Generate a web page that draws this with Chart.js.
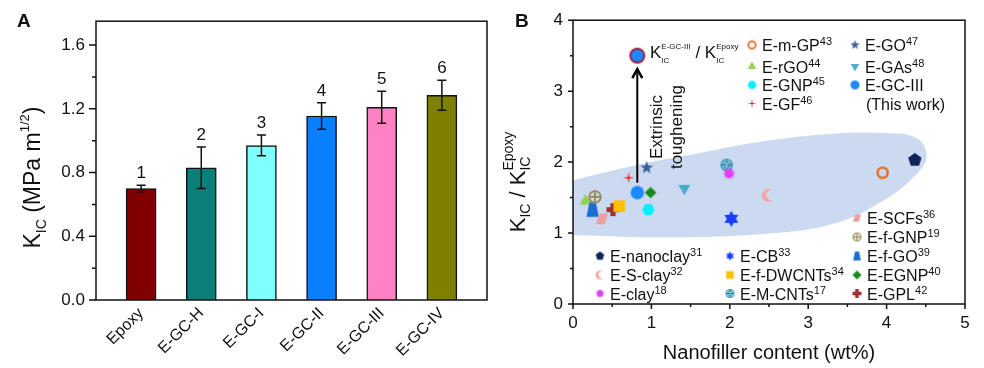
<!DOCTYPE html>
<html>
<head>
<meta charset="utf-8">
<script src="https://cdn.jsdelivr.net/npm/chart.js@4.4.1/dist/chart.umd.min.js"></script>
<style>
  html, body { margin: 0; padding: 0; background: #fff; }
  #wrapA { position: absolute; left: 0; top: 0; width: 500px; height: 368px; }
  #wrapB { position: absolute; left: 500px; top: 0; width: 484px; height: 368px; }
</style>
</head>
<body>
<div id="wrapA"><canvas id="chartA" width="500" height="368"></canvas></div>
<div id="wrapB"><canvas id="chartB" width="484" height="368"></canvas></div>
<script>
const FONT = "'Liberation Sans', Arial, sans-serif";
const INK = '#111';

// ---- panel A data
const samples = ['Epoxy', 'E-GC-H', 'E-GC-I', 'E-GC-II', 'E-GC-III', 'E-GC-IV'];
const kic = [0.70, 0.83, 0.97, 1.155, 1.21, 1.285];
const kicErr = [0.02, 0.13, 0.065, 0.083, 0.10, 0.094];
const sampleNo = ['1', '2', '3', '4', '5', '6'];
const ticksA = [0, 0.4, 0.8, 1.2, 1.6];
const minorA = [0.2, 0.6, 1.0, 1.4];
const barColors = ['#800000', '#0b7f7a', '#80ffff', '#0a80ff', '#ff82c4', '#808000'];

// ---- panel B data
const fillers = ['E-nanoclay', 'E-S-clay', 'E-clay', 'E-CB', 'E-f-DWCNTs', 'E-M-CNTs', 'E-SCFs', 'E-f-GNP',
  'E-f-GO', 'E-EGNP', 'E-GPL', 'E-m-GP', 'E-rGO', 'E-GNP', 'E-GF', 'E-GO', 'E-GAs', 'E-GC-III'];
const refs = ['31', '32', '18', '33', '34', '17', '36', '19', '39', '40', '42', '43', '44', '45', '46', '47', '48', ''];
const content = [4.36, 2.49, 1.99, 2.02, 0.59, 1.96, 0.37, 0.28, 0.25, 0.99, 0.51, 3.95, 0.16, 0.96, 0.71, 0.94, 1.42, 0.82];
const ratio = [2.03, 1.53, 1.84, 1.20, 1.38, 1.96, 1.20, 1.51, 1.33, 1.57, 1.33, 1.85, 1.45, 1.33, 1.78, 1.92, 1.63, 1.57];
const thisWorkX = [0.82];
const thisWorkY = [3.5];
const arrowX = [0.82, 0.82];
const arrowY = [1.71, 3.31];
const blobX = [-0.02, 0.77, 1.62, 2.47, 3.32, 3.96, 4.38, 4.51, 4.38, 3.96, 3.32, 2.47, 1.20, -0.02];
const blobY = [1.74, 1.95, 2.13, 2.30, 2.40, 2.41, 2.34, 2.09, 1.83, 1.46, 1.13, 0.99, 0.94, 0.97];
const ticksBX = [0, 1, 2, 3, 4, 5];
const ticksBY = [0, 1, 2, 3, 4];

// marker look for each filler (same order as fillers)
const markerShape = ['pentagon', 'crescent', 'burst', 'star6', 'square', 'circDiamond', 'para', 'circPlus',
  'trap', 'diamond', 'plus', 'ring', 'triUp', 'hexagon', 'star4', 'star5', 'triDown', 'circle'];
const markerColor = ['#10245c', '#f6a6a6', '#e040fb', '#1c3cff', '#ffc000', '#2f8fae', '#eaa0a0', '#9a8a56',
  '#1a6fd0', '#15891a', '#9c3232', '#e8661c', '#92d050', '#00f0ff', '#e8101a', '#3a5f9f', '#4aaccc', '#1e88ff'];
const markerR = [7, 6.5, 6.3, 8, 6.8, 6.2, 6.5, 6.7, 7.2, 5.8, 6.5, 6.3, 6.3, 6.3, 6, 6.2, 6.3, 6.7];

function regular(n, r, rot) {
  return Array.from({ length: n }, (_, i) => [r * Math.cos(rot + i * 2 * Math.PI / n), r * Math.sin(rot + i * 2 * Math.PI / n)]);
}
function starPts(n, ro, ri, rot) {
  const pts = [];
  for (let i = 0; i < 2 * n; i++) {
    const rr = i % 2 ? ri : ro, a = rot + i * Math.PI / n;
    pts.push([rr * Math.cos(a), rr * Math.sin(a)]);
  }
  return pts;
}
function path(g, pts) {
  g.beginPath();
  pts.forEach((p, i) => i ? g.lineTo(p[0], p[1]) : g.moveTo(p[0], p[1]));
  g.closePath();
}

function makeMarker(shape, color, r) {
  const s = Math.ceil(2 * r + 6);
  const c = document.createElement('canvas');
  c.width = s; c.height = s;
  const g = c.getContext('2d');
  g.translate(s / 2, s / 2);
  g.fillStyle = color; g.strokeStyle = color;
  const a = r * 0.4;
  switch (shape) {
    case 'pentagon': path(g, regular(5, r, -Math.PI / 2)); g.fill(); break;
    case 'hexagon': path(g, regular(6, r, 0)); g.fill(); break;
    case 'triUp': path(g, regular(3, r * 1.1, -Math.PI / 2)); g.fill(); break;
    case 'triDown': path(g, regular(3, r * 1.1, Math.PI / 2)); g.fill(); break;
    case 'diamond': path(g, regular(4, r, -Math.PI / 2)); g.fill(); break;
    case 'square': g.fillRect(-0.85 * r, -0.85 * r, 1.7 * r, 1.7 * r); break;
    case 'star5': path(g, starPts(5, r * 1.1, r * 0.45, -Math.PI / 2)); g.fill(); break;
    case 'star6': path(g, starPts(6, r, r * 0.58, -Math.PI / 2)); g.fill(); break;
    case 'star4': path(g, starPts(4, r, r * 0.18, -Math.PI / 2)); g.fill(); break;
    case 'burst': path(g, starPts(12, r, r * 0.62, 0)); g.fill(); break;
    case 'plus':
      path(g, [[-a, -r], [a, -r], [a, -a], [r, -a], [r, a], [a, a], [a, r], [-a, r], [-a, a], [-r, a], [-r, -a], [-a, -a]]);
      g.fill(); break;
    case 'para': path(g, [[-r * 0.95, r * 0.85], [-r * 0.4, -r * 0.85], [r * 0.95, -r * 0.85], [r * 0.4, r * 0.85]]); g.fill(); break;
    case 'trap': path(g, [[-0.45 * r, -r], [0.45 * r, -r], [0.85 * r, r], [-0.85 * r, r]]); g.fill(); break;
    case 'crescent':
      g.beginPath(); g.arc(0, 0, r, 0, 2 * Math.PI); g.fill();
      g.globalCompositeOperation = 'destination-out';
      g.beginPath(); g.arc(0.55 * r, -0.05 * r, 0.85 * r, 0, 2 * Math.PI); g.fill();
      break;
    case 'circle': g.beginPath(); g.arc(0, 0, r, 0, 2 * Math.PI); g.fill(); break;
    case 'bigCircle':
      g.beginPath(); g.arc(0, 0, r - 1, 0, 2 * Math.PI); g.fill();
      g.lineWidth = 2; g.strokeStyle = '#a0203e'; g.stroke(); break;
    case 'ring': {
      const lw = Math.max(1.5, r * 0.38);
      g.lineWidth = lw; g.beginPath(); g.arc(0, 0, r - lw / 2, 0, 2 * Math.PI); g.stroke(); break;
    }
    case 'circPlus': {
      const lw = Math.max(1.3, r * 0.28);
      g.lineWidth = lw; g.beginPath(); g.arc(0, 0, r - lw / 2, 0, 2 * Math.PI); g.stroke();
      g.beginPath(); g.moveTo(-r + lw, 0); g.lineTo(r - lw, 0); g.moveTo(0, -r + lw); g.lineTo(0, r - lw); g.stroke(); break;
    }
    case 'circDiamond': {
      const lw = Math.max(1.2, r * 0.24);
      g.lineWidth = lw; g.beginPath(); g.arc(0, 0, r - lw / 2, 0, 2 * Math.PI); g.stroke();
      path(g, regular(4, r * 0.62, -Math.PI / 2)); g.stroke();
      g.beginPath(); g.moveTo(-r * 0.62, 0); g.lineTo(r * 0.62, 0); g.stroke(); break;
    }
  }
  return c;
}

// rich text: parts = [text, size, dy, stack]
function rich(g, x, y, parts, align) {
  let end = 0, prevStart = 0;
  const pos = [];
  parts.forEach(p => {
    g.font = p[1] + 'px ' + FONT;
    const w = g.measureText(p[0]).width;
    let x0;
    if (p[3]) { x0 = prevStart; end = Math.max(end, x0 + w); }
    else { x0 = end; end = x0 + w; prevStart = x0; }
    pos.push(x0);
  });
  const start = align === 'center' ? x - end / 2 : x;
  g.textAlign = 'left';
  g.textBaseline = 'alphabetic';
  parts.forEach((p, i) => {
    g.font = p[1] + 'px ' + FONT;
    g.fillText(p[0], start + pos[i], y + p[2]);
  });
}

function drawFrame(g, area, lw) {
  g.save();
  g.strokeStyle = INK; g.lineWidth = lw;
  g.strokeRect(area.left, area.top, area.right - area.left, area.bottom - area.top);
  g.restore();
}

// ---------------- Panel A
const panelA = {
  id: 'panelA',
  afterDraw(chart) {
    const g = chart.ctx, area = chart.chartArea, ys = chart.scales.y;
    drawFrame(g, area, 1.5);
    g.save();
    g.strokeStyle = INK; g.lineWidth = 1.5;
    g.beginPath();
    ticksA.forEach(v => { const p = ys.getPixelForValue(v); g.moveTo(area.left - 7, p); g.lineTo(area.left, p); });
    minorA.forEach(v => { const p = ys.getPixelForValue(v); g.moveTo(area.left - 4, p); g.lineTo(area.left, p); });
    g.stroke();

    // error bars and sample numbers
    const meta = chart.getDatasetMeta(0);
    g.lineWidth = 1.5;
    g.fillStyle = INK;
    g.font = '17px ' + FONT;
    g.textAlign = 'center'; g.textBaseline = 'bottom';
    meta.data.forEach((bar, i) => {
      const hi = ys.getPixelForValue(kic[i] + kicErr[i]);
      const lo = ys.getPixelForValue(kic[i] - kicErr[i]);
      g.beginPath();
      g.moveTo(bar.x, hi); g.lineTo(bar.x, lo);
      g.moveTo(bar.x - 4.5, hi); g.lineTo(bar.x + 4.5, hi);
      g.moveTo(bar.x - 4.5, lo); g.lineTo(bar.x + 4.5, lo);
      g.stroke();
      g.fillText(sampleNo[i], bar.x, hi - 3);
    });

    // axis title
    g.save();
    g.translate(40, (area.top + area.bottom) / 2 + 17);
    g.rotate(-Math.PI / 2);
    rich(g, 0, 0, [['K', 23, 0], ['IC', 14, 6], [' (MPa m', 23, 0], ['1/2', 13, -11], [')', 23, 0]], 'center');
    g.restore();

    g.font = 'bold 19px ' + FONT;
    g.textAlign = 'left'; g.textBaseline = 'alphabetic';
    g.fillText('A', 17, 27);
    g.restore();
  }
};

new Chart(document.getElementById('chartA'), {
  type: 'bar',
  data: {
    datasets: [{
      data: kic.map((v, i) => ({ x: i, y: v })),
      backgroundColor: barColors,
      borderColor: INK,
      borderWidth: 1.5,
      barThickness: 30
    }]
  },
  options: {
    responsive: false,
    animation: false,
    devicePixelRatio: 1,
    layout: { padding: { top: 13, right: 13, left: 0, bottom: 0 } },
    plugins: { legend: { display: false }, tooltip: { enabled: false } },
    scales: {
      x: {
        type: 'linear', min: -0.75, max: 5.75, offset: false,
        afterBuildTicks: s => { s.ticks = samples.map((_, i) => ({ value: i })); },
        afterFit: s => { s.height = 68; },
        grid: { display: false, drawTicks: false }, border: { display: false },
        ticks: {
          autoSkip: false, minRotation: 45, maxRotation: 45, padding: 4,
          color: INK, font: { family: FONT, size: 16 },
          callback: v => samples[v]
        }
      },
      y: {
        min: 0, max: 1.75,
        afterBuildTicks: s => { s.ticks = ticksA.map(v => ({ value: v })); },
        afterFit: s => { s.width = 96; },
        grid: { display: false, drawTicks: false }, border: { display: false },
        ticks: { padding: 11, color: INK, font: { family: FONT, size: 17 }, callback: v => v.toFixed(1) }
      }
    }
  },
  plugins: [panelA]
});

// ---------------- Panel B
const markerImgs = fillers.map((_, i) => makeMarker(markerShape[i], markerColor[i], markerR[i]));
const legendImgs = fillers.map((_, i) => makeMarker(markerShape[i], markerColor[i], 4.5));
const bigImg = makeMarker('bigCircle', '#1e88ff', 8);

// legend slots, in fillers order
const legendPos = [[100, 256], [100, 275], [100, 293.5], [230, 256], [230, 275], [230, 293.5],
  [357, 218], [357, 237], [357, 256], [357, 275], [357, 293.5],
  [252, 45], [252, 66.5], [252, 85], [252, 103.5], [355, 45], [355, 66.5], [355, 85]];

const panelB = {
  id: 'panelB',
  afterDatasetsDraw(chart) {
    const g = chart.ctx, xs = chart.scales.x, ys = chart.scales.y;
    const ax = xs.getPixelForValue(arrowX[0]);
    const y0 = ys.getPixelForValue(arrowY[0]), y1 = ys.getPixelForValue(arrowY[1]);
    g.save();
    g.strokeStyle = '#000'; g.lineWidth = 2;
    g.beginPath(); g.moveTo(ax, y0); g.lineTo(ax, y1 + 1); g.stroke();
    g.lineWidth = 2.5; g.lineJoin = 'miter';
    g.beginPath(); g.moveTo(ax - 5, y1 + 9); g.lineTo(ax, y1); g.lineTo(ax + 5, y1 + 9); g.stroke();
    g.restore();
  },
  afterDraw(chart) {
    const g = chart.ctx, area = chart.chartArea, xs = chart.scales.x, ys = chart.scales.y;
    drawFrame(g, area, 1.5);
    g.save();
    g.strokeStyle = INK; g.lineWidth = 1.5;
    g.beginPath();
    for (let v = 0; v <= 4; v += 0.5) {
      const p = ys.getPixelForValue(v), len = v % 1 ? 3 : 5;
      g.moveTo(area.left - len, p); g.lineTo(area.left, p);
    }
    for (let v = 0; v <= 5; v += 0.5) {
      const p = xs.getPixelForValue(v), len = v % 1 ? 3 : 5;
      g.moveTo(p, area.bottom); g.lineTo(p, area.bottom + len);
    }
    g.stroke();

    // legend
    g.fillStyle = '#111';
    legendPos.forEach((p, i) => {
      const im = legendImgs[i];
      g.drawImage(im, p[0] - im.width / 2, p[1] - im.height / 2);
      const parts = [[fillers[i], 16, 0]];
      if (refs[i]) parts.push([refs[i], 11, -6]);
      rich(g, p[0] + 10, p[1] + 6, parts, 'left');
    });
    rich(g, 366, 109.5, [['(This work)', 16, 0]], 'left');

    // ratio label beside the big point
    rich(g, 150, 58, [['K', 17, 0], ['IC', 8, 5], ['E-GC-III', 8, -9, true], [' / K', 17, 0], ['IC', 8, 5], ['Epoxy', 8, -9, true]], 'left');

    // extrinsic toughening
    g.save();
    g.translate(157, 127); g.rotate(-Math.PI / 2);
    g.font = '17px ' + FONT; g.textAlign = 'center'; g.textBaseline = 'middle';
    g.fillText('Extrinsic', 0, 0);
    g.fillText('toughening', 0, 20);
    g.restore();

    // axis titles
    g.font = '20px ' + FONT; g.textAlign = 'center'; g.textBaseline = 'middle';
    g.fillText('Nanofiller content (wt%)', (area.left + area.right) / 2, 353);
    g.save();
    g.translate(25, 182); g.rotate(-Math.PI / 2);
    rich(g, 0, 0, [['K', 22, 0], ['IC', 14, 5], [' / K', 22, 0], ['IC', 14, 5], ['Epoxy', 14, -12, true]], 'center');
    g.restore();

    g.font = 'bold 19px ' + FONT;
    g.textAlign = 'left'; g.textBaseline = 'alphabetic';
    g.fillText('B', 15, 27);
    g.restore();
  }
};

const pointSets = fillers.map((name, i) => ({
  label: name,
  data: [{ x: content[i], y: ratio[i] }],
  pointStyle: markerImgs[i],
  pointRadius: markerR[i],
  order: 0
}));

new Chart(document.getElementById('chartB'), {
  type: 'scatter',
  data: {
    datasets: [
      {
        label: 'ratio',
        data: thisWorkX.map((x, i) => ({ x: x, y: thisWorkY[i] })),
        pointStyle: bigImg, pointRadius: 8, order: 0
      },
      ...pointSets,
      {
        label: 'region',
        data: blobX.map((x, i) => ({ x: x, y: blobY[i] })),
        showLine: true, fill: 'shape', tension: 0.4,
        backgroundColor: '#cbdaf0', borderColor: 'rgba(0,0,0,0)', borderWidth: 0,
        pointRadius: 0, order: 10
      }
    ]
  },
  options: {
    responsive: false,
    animation: false,
    devicePixelRatio: 1,
    layout: { padding: { top: 18, right: 19, left: 0, bottom: 0 } },
    plugins: { legend: { display: false }, tooltip: { enabled: false } },
    scales: {
      x: {
        type: 'linear', min: 0, max: 5,
        afterBuildTicks: s => { s.ticks = ticksBX.map(v => ({ value: v })); },
        afterFit: s => { s.height = 64; },
        grid: { display: false, drawTicks: false }, border: { display: false },
        ticks: { padding: 9, color: INK, font: { family: FONT, size: 17 } }
      },
      y: {
        min: 0, max: 4,
        afterBuildTicks: s => { s.ticks = ticksBY.map(v => ({ value: v })); },
        afterFit: s => { s.width = 73; },
        grid: { display: false, drawTicks: false }, border: { display: false },
        ticks: { padding: 10, color: INK, font: { family: FONT, size: 17 } }
      }
    }
  },
  plugins: [panelB]
});
</script>
</body>
</html>
